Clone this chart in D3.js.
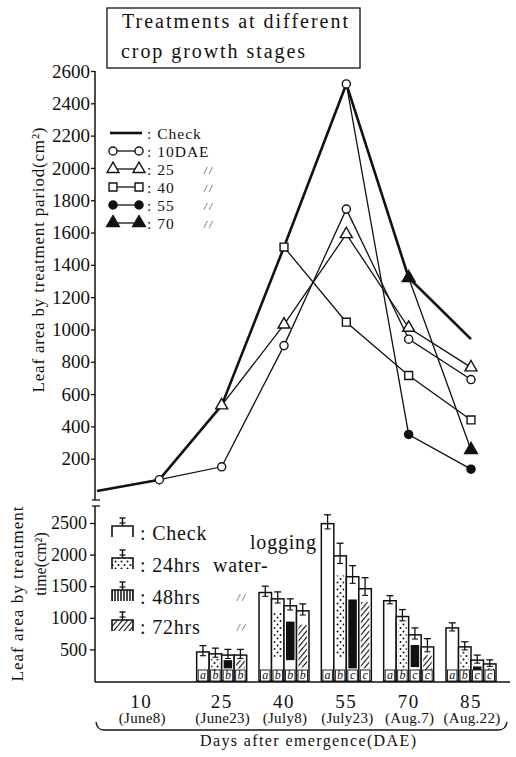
<!DOCTYPE html>
<html><head><meta charset="utf-8">
<script src="https://cdn.jsdelivr.net/npm/d3@7"></script>
<style>
body{margin:0;background:#fff}
svg{display:block}
</style>
</head><body>
<svg id="c" width="516" height="757"></svg>
<script>
// ---------- DATA ----------
const dae = [0, 10, 25, 40, 55, 70, 85];
const dates = ["(June8)", "(June23)", "(July8)", "(July23)", "(Aug.7)", "(Aug.22)"];
const checkArea = [0, 70, 530, 1510, 2520, 1320, 940];
const t10Area = [70, 150, 900, 1745, 940, 690];   // from 10 DAE
const t25Area = [530, 1030, 1590, 1010, 765];     // from 25 DAE
const t40Area = [1510, 1045, 715, 440];           // from 40 DAE
const t55Area = [2520, 350, 135];                 // from 55 DAE
const t70Area = [1320, 255];                      // from 70 DAE
const topTicks = [200,400,600,800,1000,1200,1400,1600,1800,2000,2200,2400,2600];

const barDae = [25, 40, 55, 70, 85];
const treatments = ["Check", "24hrs", "48hrs", "72hrs"];
const checkBar = [460, 1400, 2490, 1270, 840];
const h24Bar = [430, 1300, 1980, 1020, 540];
const h48Bar = [410, 1190, 1650, 730, 330];
const h72Bar = [410, 1110, 1460, 540, 270];
const checkErr = [100, 100, 140, 80, 80];
const h24Err = [90, 110, 200, 110, 80];
const h48Err = [90, 110, 175, 110, 80];
const h72Err = [90, 110, 175, 130, 65];
// pattern-filled part of each treated bar (low, high)
const h24FillLo = [150, 380, 380, 200, 150], h24FillHi = [350, 1100, 1670, 940, 460];
const h48FillLo = [200, 330, 200, 220, 160], h48FillHi = [330, 940, 1290, 570, 230];
const h72FillLo = [200, 210, 200, 160, 150], h72FillHi = [330, 890, 1250, 410, 200];
const letters = [["a","b","b","b"],["a","b","b","b"],["a","b","c","c"],["a","b","c","c"],["a","b","c","c"]];
const botTicks = [500, 1000, 1500, 2000, 2500];

// ---------- SETUP ----------
const FONT = "'Liberation Serif', 'Times New Roman', Tinos, 'Nimbus Roman', serif";
const svg = d3.select("#c");
const ink = "#111";
const defs = svg.append("defs");
const pDots = defs.append("pattern").attr("id","dots").attr("patternUnits","userSpaceOnUse").attr("width",6).attr("height",7);
pDots.append("circle").attr("cx",1.5).attr("cy",1.5).attr("r",1).attr("fill",ink);
pDots.append("circle").attr("cx",4.5).attr("cy",5).attr("r",1).attr("fill",ink);
const pHatch = defs.append("pattern").attr("id","hatch").attr("patternUnits","userSpaceOnUse").attr("width",4).attr("height",4).attr("patternTransform","rotate(40)");
pHatch.append("rect").attr("width",4).attr("height",4).attr("fill","#fff");
pHatch.append("line").attr("x1",0).attr("y1",0).attr("x2",0).attr("y2",4).attr("stroke",ink).attr("stroke-width",2.2);
const pVert = defs.append("pattern").attr("id","vert").attr("patternUnits","userSpaceOnUse").attr("width",3).attr("height",4);
pVert.append("line").attr("x1",1).attr("y1",0).attr("x2",1).attr("y2",4).attr("stroke",ink).attr("stroke-width",1.5);
const fills = {"24hrs":"url(#dots)","48hrs":ink,"72hrs":"url(#hatch)"};

const x = d3.scalePoint().domain(dae).range([97, 471]);
const yTop = d3.scaleLinear().domain([0, 2600]).range([491, 71]);
const yBot = d3.scaleLinear().domain([0, 2500]).range([681, 523]);
const axisX = 95;
const fmt = d3.format("d");

// ---------- TITLE BOX ----------
svg.append("rect").attr("x",107).attr("y",8).attr("width",253).attr("height",60)
  .attr("fill","none").attr("stroke",ink).attr("stroke-width",1.3);
svg.append("text").attr("x",122).attr("y",28).attr("font-size",20)
  .attr("textLength",226).attr("lengthAdjust","spacing").text("Treatments at different");
svg.append("text").attr("x",121).attr("y",58).attr("font-size",20)
  .attr("textLength",184).attr("lengthAdjust","spacing").text("crop growth stages");

// ---------- TOP AXIS ----------
const gTop = svg.append("g").attr("transform",`translate(${axisX},0)`)
  .call(d3.axisLeft(yTop).tickValues(topTicks).tickFormat(fmt).tickSize(4).tickPadding(1));
gTop.select(".domain").remove();
gTop.selectAll(".tick line").attr("stroke",ink).attr("stroke-width",1.3);
gTop.selectAll(".tick text").attr("font-size",19);
svg.append("line").attr("x1",axisX).attr("x2",axisX).attr("y1",yTop(2600)).attr("y2",500)
  .attr("stroke",ink).attr("stroke-width",1.5);
svg.append("line").attr("x1",axisX-3).attr("x2",axisX+5).attr("y1",500).attr("y2",500).attr("stroke",ink).attr("stroke-width",1.3);
svg.append("line").attr("x1",axisX-3).attr("x2",axisX+5).attr("y1",506).attr("y2",506).attr("stroke",ink).attr("stroke-width",1.3);

svg.append("text").attr("transform","translate(38,260) rotate(-90)")
  .attr("text-anchor","middle").attr("dominant-baseline","central").attr("font-size",17)
  .attr("textLength",265).attr("lengthAdjust","spacing").text("Leaf area by treatment pariod(cm²)");

// ---------- TOP LINES ----------
const line = d3.line().x(d => x(d[0])).y(d => yTop(d[1]));
const series = [
  {name:"10DAE", start:10, vals:t10Area, sym:d3.symbolCircle, size:52, filled:false},
  {name:"25", start:25, vals:t25Area, sym:d3.symbolTriangle, size:62, filled:false},
  {name:"40", start:40, vals:t40Area, sym:d3.symbolSquare, size:62, filled:false},
  {name:"55", start:55, vals:t55Area, sym:d3.symbolCircle, size:52, filled:true, openFirst:true},
  {name:"70", start:70, vals:t70Area, sym:d3.symbolTriangle, size:70, filled:true}
];
series.forEach(s => {
  const i0 = dae.indexOf(s.start);
  s.pts = s.vals.map((v,i) => [dae[i0+i], v]);
});
const checkPts = dae.map((d,i) => [d, checkArea[i]]);
series.forEach(s => {
  svg.append("path").attr("d", line(s.pts)).attr("fill","none").attr("stroke",ink).attr("stroke-width",1.3);
});
svg.append("path").attr("d", line(checkPts)).attr("fill","none").attr("stroke",ink).attr("stroke-width",2.6).attr("stroke-linejoin","round");
series.forEach(s => {
  svg.append("g").selectAll("path").data(s.pts).join("path")
    .attr("transform", d => `translate(${x(d[0])},${yTop(d[1])})`)
    .attr("d", d3.symbol(s.sym, s.size))
    .attr("fill", (d,i) => (s.filled && !(s.openFirst && i===0)) ? ink : "#fff")
    .attr("stroke", ink).attr("stroke-width",1.4);
});

// top legend
const legTopY = [133, 151, 169, 187, 205, 223];
const legFont = 15.5;
const lg = svg.append("g");
lg.append("line").attr("x1",110).attr("x2",142).attr("y1",legTopY[0]).attr("y2",legTopY[0]).attr("stroke",ink).attr("stroke-width",2.6);
lg.append("text").attr("x",147).attr("y",legTopY[0]).attr("dominant-baseline","central").attr("font-size",legFont).attr("letter-spacing",1).text(": Check");
series.forEach((s,i) => {
  const yy = legTopY[i+1];
  lg.append("line").attr("x1",113).attr("x2",139).attr("y1",yy).attr("y2",yy).attr("stroke",ink).attr("stroke-width",1.3);
  [113,139].forEach(xx => lg.append("path").attr("transform",`translate(${xx},${yy})`)
    .attr("d", d3.symbol(s.sym, s.size)).attr("fill", s.filled ? ink : "#fff").attr("stroke",ink).attr("stroke-width",1.4));
  lg.append("text").attr("x",147).attr("y",yy).attr("dominant-baseline","central").attr("font-size",legFont).attr("letter-spacing",1).text(": " + s.name);
  if (i > 0) lg.append("text").attr("x",204).attr("y",yy+1).attr("dominant-baseline","central").attr("font-size",10).attr("font-style","italic").text("/ /");
});

// ---------- BOTTOM CHART ----------
const gBot = svg.append("g").attr("transform",`translate(${axisX},0)`)
  .call(d3.axisLeft(yBot).tickValues(botTicks).tickFormat(fmt).tickSize(5).tickPadding(3));
gBot.select(".domain").remove();
gBot.selectAll(".tick line").attr("stroke",ink).attr("stroke-width",1.3);
gBot.selectAll(".tick text").attr("font-size",18);
svg.append("line").attr("x1",axisX).attr("x2",axisX).attr("y1",506).attr("y2",yBot(0)+1).attr("stroke",ink).attr("stroke-width",1.5);
svg.append("line").attr("x1",axisX).attr("x2",510).attr("y1",yBot(0)+1).attr("y2",yBot(0)+1).attr("stroke",ink).attr("stroke-width",1.6);

svg.append("text").attr("transform","translate(17,594) rotate(-90)")
  .attr("text-anchor","middle").attr("dominant-baseline","central").attr("font-size",17)
  .attr("textLength",175).attr("lengthAdjust","spacing").text("Leaf area by treatment");
svg.append("text").attr("transform","translate(40,564) rotate(-90)")
  .attr("text-anchor","middle").attr("dominant-baseline","central").attr("font-size",16)
  .text("time(cm²)");

const band = d3.scaleBand().domain(treatments).range([-25, 25]).padding(0);
const barVals = {"Check":checkBar,"24hrs":h24Bar,"48hrs":h48Bar,"72hrs":h72Bar};
const barErrs = {"Check":checkErr,"24hrs":h24Err,"48hrs":h48Err,"72hrs":h72Err};
const fillLo = {"24hrs":h24FillLo,"48hrs":h48FillLo,"72hrs":h72FillLo};
const fillHi = {"24hrs":h24FillHi,"48hrs":h48FillHi,"72hrs":h72FillHi};
const bw = band.bandwidth();
barDae.forEach((d, gi) => {
  const cx = x(d);
  const g = svg.append("g");
  treatments.forEach((t, ti) => {
    const v = barVals[t][gi], e = barErrs[t][gi];
    const bx = cx + band(t);
    g.append("rect").attr("x",bx).attr("y",yBot(v)).attr("width",bw).attr("height",yBot(0)-yBot(v))
      .attr("fill","#fff").attr("stroke",ink).attr("stroke-width",1.5);
    if (fills[t]) {
      const lo = fillLo[t][gi], hi = fillHi[t][gi];
      g.append("rect").attr("x",bx+2).attr("y",yBot(hi)).attr("width",bw-4).attr("height",yBot(lo)-yBot(hi))
        .attr("fill",fills[t]);
    }
    g.append("rect").attr("x",bx+1.5).attr("y",yBot(0)-11).attr("width",bw-3).attr("height",11)
      .attr("fill","#fff").attr("stroke",ink).attr("stroke-width",0.9);
    g.append("text").attr("x",bx+bw/2).attr("y",yBot(0)-2).attr("text-anchor","middle")
      .attr("font-size",12).attr("font-style","italic").text(letters[gi][ti]);
    const ex = bx + bw/2;
    g.append("line").attr("x1",ex).attr("x2",ex).attr("y1",yBot(v+e)).attr("y2",yBot(v-e*0.6)).attr("stroke",ink).attr("stroke-width",1.3);
    g.append("line").attr("x1",ex-3.5).attr("x2",ex+3.5).attr("y1",yBot(v+e)).attr("y2",yBot(v+e)).attr("stroke",ink).attr("stroke-width",1.3);
    g.append("line").attr("x1",ex-3).attr("x2",ex+3).attr("y1",yBot(v-e*0.6)).attr("y2",yBot(v-e*0.6)).attr("stroke",ink).attr("stroke-width",1.1);
  });
});

// bottom legend
const legBotY = [533, 565, 597, 627];
const legFill = {"Check":null, "24hrs":"url(#dots)", "48hrs":"url(#vert)", "72hrs":"url(#hatch)"};
const legText = [": Check", ": 24hrs", ": 48hrs", ": 72hrs"];
treatments.forEach((t, i) => {
  const yy = legBotY[i];
  const x0 = 112, x1 = 133, y0 = yy - 7, y1 = yy + 4;
  if (legFill[t]) svg.append("rect").attr("x",x0).attr("y",y0).attr("width",x1-x0).attr("height",y1-y0).attr("fill",legFill[t]);
  svg.append("path").attr("d",`M${x0},${y1}V${y0}H${x1}V${y1}`).attr("fill","none").attr("stroke",ink).attr("stroke-width",1.6);
  const ex = (x0+x1)/2;
  svg.append("line").attr("x1",ex).attr("x2",ex).attr("y1",y0-8).attr("y2",y0).attr("stroke",ink).attr("stroke-width",1.4);
  svg.append("line").attr("x1",ex-3).attr("x2",ex+3).attr("y1",y0-8).attr("y2",y0-8).attr("stroke",ink).attr("stroke-width",1.4);
  svg.append("line").attr("x1",ex-3).attr("x2",ex+3).attr("y1",y0-3).attr("y2",y0-3).attr("stroke",ink).attr("stroke-width",1.2);
  svg.append("text").attr("x",140).attr("y",yy).attr("dominant-baseline","central").attr("font-size",20)
    .attr("letter-spacing",0.8).text(legText[i]);
  if (i >= 2) svg.append("text").attr("x",237).attr("y",yy).attr("dominant-baseline","central").attr("font-size",10).attr("font-style","italic").text("/ /");
});
svg.append("text").attr("x",213).attr("y",565).attr("dominant-baseline","central").attr("font-size",20)
  .attr("letter-spacing",0.8).text("water-");
svg.append("text").attr("x",250).attr("y",542).attr("dominant-baseline","central").attr("font-size",20)
  .attr("letter-spacing",0.8).text("logging");

// ---------- X LABELS ----------
const xl = svg.append("g");
const labDae = [10].concat(barDae);
labDae.forEach((d, i) => {
  const off = d === 10 ? -18 : 0;
  xl.append("text").attr("x", x(d)+off).attr("y",708).attr("text-anchor","middle").attr("font-size",19)
    .attr("letter-spacing",1.5).text(d);
  xl.append("text").attr("x", x(d)+off+1).attr("y",723).attr("text-anchor","middle").attr("font-size",15)
    .attr("letter-spacing",0.3).text(dates[i]);
});
svg.append("path").attr("d","M96,722 Q97,730 104,730 L498,730 Q506,730 507,722")
  .attr("fill","none").attr("stroke",ink).attr("stroke-width",1.4);
svg.append("text").attr("x",308).attr("y",746).attr("text-anchor","middle").attr("font-size",16)
  .attr("textLength",216).attr("lengthAdjust","spacing").text("Days after emergence(DAE)");

svg.selectAll("text").style("font-family", FONT).style("fill", ink);
</script>
</body></html>
